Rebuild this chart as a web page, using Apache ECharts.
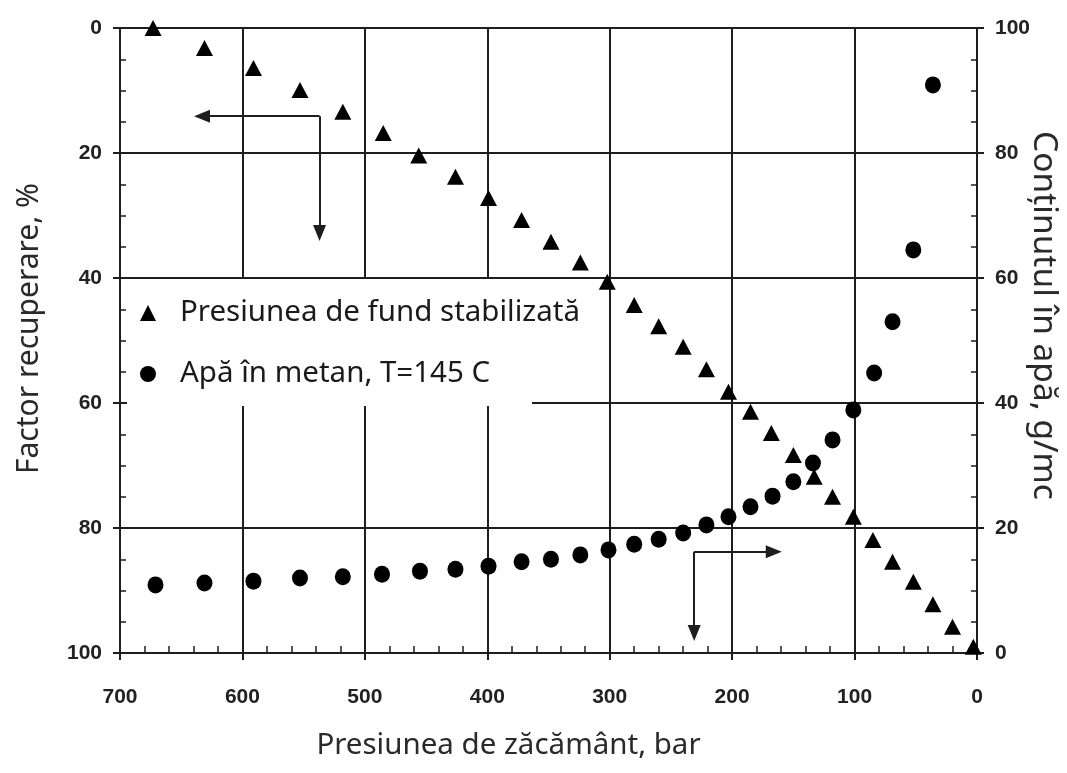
<!DOCTYPE html>
<html>
<head>
<meta charset="utf-8">
<title>Factor recuperare</title>
<script src="https://cdn.jsdelivr.net/npm/echarts@6/dist/echarts.min.js"></script>
<style>
  html, body { margin: 0; padding: 0; background: #fff; }
  #chart { width: 1067px; height: 773px; }
</style>
</head>
<body>
<div id="chart"></div>
<script>
// Presiunea de zăcământ (bar) pentru fiecare punct măsurat
const pressureBottomHole = [673, 631, 591, 553, 518, 485, 456, 426, 399, 372, 348, 324, 302, 280, 260, 240, 221, 203, 185, 168, 150, 133, 118, 101, 85, 69, 52, 36, 20, 3];
// Factor de recuperare (%) - presiunea de fund stabilizată
const recoveryFactor = [0, 3.2, 6.4, 9.9, 13.4, 16.8, 20.4, 23.8, 27.2, 30.7, 34.2, 37.5, 40.6, 44.3, 47.7, 51.0, 54.6, 58.2, 61.4, 64.8, 68.3, 71.8, 75.0, 78.2, 81.9, 85.4, 88.6, 92.2, 95.8, 99.0];

// Presiunea (bar) pentru conținutul de apă în metan
const pressureWater = [671, 631, 591, 553, 518, 486, 455, 426, 399, 372, 348, 324, 301, 280, 260, 240, 221, 203, 185, 167, 150, 134, 118, 101, 84, 69, 52, 36];
// Conținutul în apă (g/mc), T = 145 C
const waterContent = [10.9, 11.2, 11.5, 12.0, 12.2, 12.6, 13.1, 13.4, 13.9, 14.6, 15.0, 15.7, 16.5, 17.4, 18.2, 19.2, 20.5, 21.8, 23.4, 25.1, 27.4, 30.4, 34.1, 38.9, 44.8, 53.0, 64.5, 90.9];

// Săgeți indicatoare: [presiune, factor recuperare] pe axa stângă
const arrowLeftCorner = [537, 14.1];
const arrowLeftTip = [633, 14.1];
const arrowDownTipA = [537, 32.8];
const arrowRightCorner = [231, 83.8];
const arrowRightTip = [166, 83.8];
const arrowDownTipB = [231, 96.8];

const pressureTicks = ['0', '100', '200', '300', '400', '500', '600', '700'];
const seriesNames = ['Presiunea de fund stabilizată', 'Apă în metan, T=145 C'];

const INK = '#1e1e1e';
const tickFont = {
  fontFamily: "'Liberation Sans Narrow', 'Liberation Sans', Arial, sans-serif",
  fontWeight: 'bold',
  fontSize: 21,
  color: '#222'
};
const titleFont = { fontFamily: "'Noto Sans', sans-serif", color: '#2a2a2a' };

const pair = (xs, ys) => xs.map((x, i) => [x, ys[i]]);

const chart = echarts.init(document.getElementById('chart'), null, { renderer: 'canvas' });

const gridBox = { left: 120, right: 90, top: 28, bottom: 120, containLabel: false, outerBoundsMode: 'none' };
const xBase = { type: 'value', min: 0, max: 700, interval: 100, inverse: true };
const yBase = { type: 'value', min: 0, max: 100, interval: 20 };
const frameLine = { show: true, onZero: false, lineStyle: { color: INK, width: 2 } };
// second, identical grid that only carries the outward half of the major ticks
const outerTicks = { show: true, inside: false, length: 7, lineStyle: { color: INK, width: 2 } };
const bare = { axisLine: { show: false, onZero: false }, axisLabel: { show: false }, splitLine: { show: false }, axisTick: outerTicks };

chart.setOption({
  animation: false,
  backgroundColor: '#fff',
  grid: [Object.assign({}, gridBox), Object.assign({}, gridBox)],
  xAxis: [
    Object.assign({}, xBase, {
      gridIndex: 0,
      position: 'bottom',
      name: 'Presiunea de zăcământ, bar',
      nameLocation: 'middle',
      nameGap: 78,
      nameMoveOverlap: false,
      nameTextStyle: Object.assign({}, titleFont, { fontSize: 29.5, padding: [0, 80, 0, 0] }),
      axisLine: frameLine,
      axisTick: { show: true, inside: true, length: 8, lineStyle: { color: INK, width: 2 } },
      minorTick: { show: true, splitNumber: 5, length: 7, lineStyle: { color: INK, width: 1.5 } },
      axisLabel: Object.assign({ margin: 34, formatter: v => pressureTicks[Math.round(v / 100)] }, tickFont),
      splitLine: { show: true, lineStyle: { color: INK, width: 2 } }
    }),
    Object.assign({}, xBase, bare, { gridIndex: 1, position: 'bottom' })
  ],
  yAxis: [
    Object.assign({}, yBase, {
      gridIndex: 0,
      position: 'left',
      inverse: true,
      name: 'Factor recuperare, %',
      nameLocation: 'middle',
      nameGap: 76,
      nameRotate: 90,
      nameMoveOverlap: false,
      nameTextStyle: Object.assign({}, titleFont, { fontSize: 30, padding: [0, 0, 0, 24] }),
      axisLine: frameLine,
      axisTick: { show: true, inside: true, length: 6, lineStyle: { color: INK, width: 2 } },
      minorTick: { show: true, splitNumber: 4, length: 6, lineStyle: { color: INK, width: 1.5 } },
      axisLabel: Object.assign({ margin: 18 }, tickFont),
      splitLine: { show: true, lineStyle: { color: INK, width: 2 } }
    }),
    Object.assign({}, yBase, {
      gridIndex: 0,
      position: 'right',
      name: 'Conținutul în apă, g/mc',
      nameLocation: 'middle',
      nameGap: 50,
      nameRotate: -90,
      nameMoveOverlap: false,
      nameTextStyle: Object.assign({}, titleFont, { fontSize: 33.5, padding: [0, 50, 0, 0] }),
      axisLine: frameLine,
      axisTick: { show: true, inside: true, length: 6, lineStyle: { color: INK, width: 2 } },
      minorTick: { show: true, splitNumber: 4, length: 6, lineStyle: { color: INK, width: 1.5 } },
      axisLabel: Object.assign({ margin: 18 }, tickFont),
      splitLine: { show: false }
    }),
    Object.assign({}, yBase, bare, { gridIndex: 1, position: 'left', inverse: true }),
    Object.assign({}, yBase, bare, { gridIndex: 1, position: 'right' })
  ],
  // white panel behind the legend
  graphic: [
    { type: 'rect', z: 1, shape: { x: 127, y: 279, width: 477, height: 121 }, style: { fill: '#fff' } },
    { type: 'rect', z: 1, shape: { x: 127, y: 398, width: 405, height: 8 }, style: { fill: '#fff' } }
  ],
  legend: {
    orient: 'vertical',
    left: 135,
    top: 291,
    z: 10,
    itemWidth: 16,
    itemHeight: 16,
    itemGap: 27,
    selectedMode: false,
    data: [
      { name: seriesNames[0], icon: 'triangle' },
      { name: seriesNames[1], icon: 'circle' }
    ],
    textStyle: {
      fontFamily: "'Noto Sans', sans-serif",
      fontSize: 29.5,
      lineHeight: 34,
      color: '#1a1a1a',
      padding: [0, 0, 0, 19]
    }
  },
  series: [
    {
      name: seriesNames[0],
      type: 'scatter',
      xAxisIndex: 0,
      yAxisIndex: 0,
      symbol: 'triangle',
      symbolSize: [17, 16],
      itemStyle: { color: '#000', opacity: 1 },
      data: pair(pressureBottomHole, recoveryFactor),
      z: 3,
      markLine: {
        silent: true,
        symbol: ['none', 'triangle'],
        symbolSize: [13, 16],
        label: { show: false },
        lineStyle: { color: INK, width: 2, type: 'solid' },
        emphasis: { disabled: true },
        data: [
          [{ coord: arrowLeftCorner }, { coord: arrowLeftTip }],
          [{ coord: arrowLeftCorner }, { coord: arrowDownTipA }],
          [{ coord: arrowRightCorner }, { coord: arrowRightTip }],
          [{ coord: arrowRightCorner }, { coord: arrowDownTipB }]
        ]
      }
    },
    {
      name: seriesNames[1],
      type: 'scatter',
      xAxisIndex: 0,
      yAxisIndex: 1,
      symbol: 'circle',
      symbolSize: [16, 17],
      itemStyle: { color: '#000', opacity: 1 },
      data: pair(pressureWater, waterContent),
      z: 3
    }
  ]
});
</script>
</body>
</html>
